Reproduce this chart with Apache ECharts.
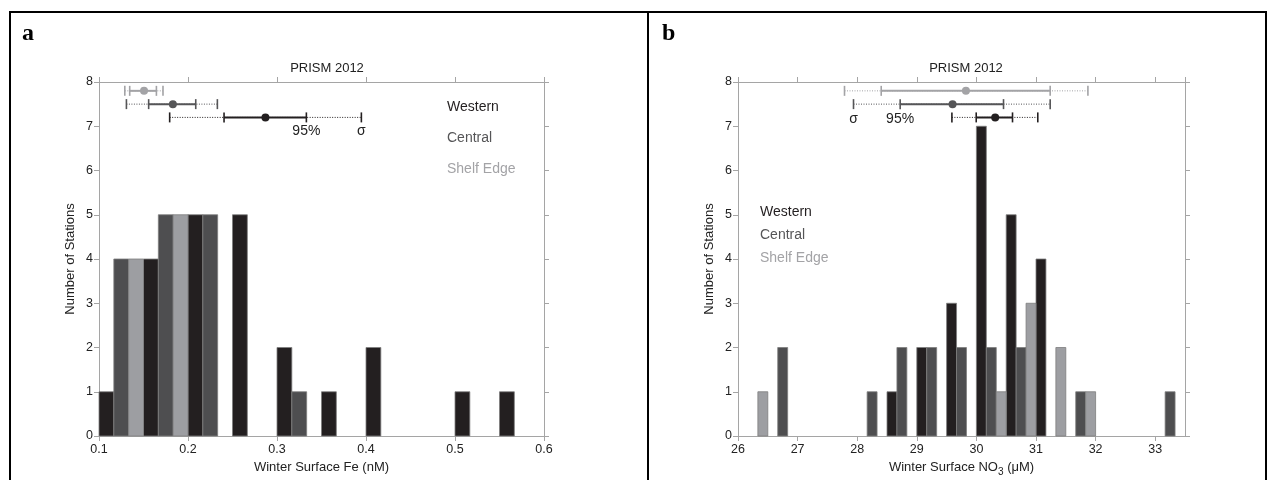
<!DOCTYPE html>
<html>
<head>
<meta charset="utf-8">
<title>PRISM 2012 winter surface Fe and NO3</title>
<script src="https://cdn.jsdelivr.net/npm/echarts@6/dist/echarts.min.js"></script>
<style>
  html, body { margin: 0; padding: 0; background: #fff; }
  #chart { width: 1277px; height: 480px; }
</style>
</head>
<body>
<div id="chart"></div>
<script>
// Histogram bins (left edge of each bin) and station counts per region
const feBinStart = [0.10, 0.15, 0.20, 0.25, 0.30, 0.35, 0.40, 0.45, 0.50, 0.55];
const feWestern  = [1, 4, 5, 5, 2, 1, 2, 0, 1, 1];
const feCentral  = [4, 5, 5, 0, 1, 0, 0, 0, 0, 0];
const feShelf    = [4, 5, 0, 0, 0, 0, 0, 0, 0, 0];

const no3BinStart = [26.0, 26.5, 27.0, 27.5, 28.0, 28.5, 29.0, 29.5, 30.0, 30.5, 31.0, 31.5, 32.0, 32.5, 33.0];
const no3Western  = [0, 0, 0, 0, 0, 1, 2, 3, 7, 5, 4, 0, 0, 0, 0];
const no3Central  = [0, 2, 0, 0, 1, 2, 2, 2, 2, 2, 0, 1, 0, 0, 1];
const no3Shelf    = [1, 0, 0, 0, 0, 0, 0, 0, 1, 3, 2, 1, 0, 0, 0];

// Summary statistics: [mean, 95% low, 95% high, sigma low, sigma high, row height]
const feStatsWestern  = [0.287, 0.2405, 0.333, 0.1794, 0.3948, 7.2];
const feStatsCentral  = [0.183, 0.1558, 0.2087, 0.1308, 0.2330, 7.5];
const feStatsShelf    = [0.1506, 0.1345, 0.1645, 0.1290, 0.1719, 7.8];

const no3StatsWestern = [30.315, 29.997, 30.606, 29.589, 31.030, 7.2];
const no3StatsCentral = [29.600, 28.721, 30.455, 27.938, 31.238, 7.5];
const no3StatsShelf   = [29.824, 28.403, 31.238, 27.787, 31.871, 7.8];

// Axis ticks
const feTicks  = [0.1, 0.2, 0.3, 0.4, 0.5, 0.6];
const no3Ticks = [26, 27, 28, 29, 30, 31, 32, 33];
const yTicks   = [0, 1, 2, 3, 4, 5, 6, 7, 8];

// Annotations for the interval markers: [x, y, text]
const feNotes  = [[0.333, 6.9, '95%'], [0.3948, 6.9, 'σ']];
const no3Notes = [[28.72, 7.17, '95%'], [27.938, 7.17, 'σ']];

const regionNames = ['Western', 'Central', 'Shelf Edge'];
const barColors   = ['#231f20', '#4e4e50', '#9d9ea2'];
const statColors  = ['#231f20', '#555557', '#a3a3a6'];
const FONT = 'Liberation Sans, Arial, sans-serif';

// Build rectangles: each bin is split into three sub-bars (Western, Central, Shelf Edge)
function barData(binStart, counts, slot, binWidth) {
  const w = binWidth / 3;
  const out = [];
  binStart.forEach((b, i) => {
    if (counts[i] > 0) out.push([b + slot * w, counts[i], w]);
  });
  return out;
}

function renderBar(color) {
  return function (params, api) {
    const x0 = api.value(0), h = api.value(1), w = api.value(2);
    const pTop = api.coord([x0, h]);
    const pBot = api.coord([x0 + w, 0]);
    return {
      type: 'rect',
      shape: { x: pTop[0], y: pTop[1], width: pBot[0] - pTop[0], height: pBot[1] - pTop[1] },
      style: { fill: color, stroke: '#7d7d7d', lineWidth: 0.8 }
    };
  };
}

function renderStat(color) {
  return function (params, api) {
    const row = api.value(5);
    const m = api.coord([api.value(0), row]);
    const c0 = api.coord([api.value(1), row]);
    const c1 = api.coord([api.value(2), row]);
    const s0 = api.coord([api.value(3), row]);
    const s1 = api.coord([api.value(4), row]);
    const cap = (p) => ({
      type: 'line',
      shape: { x1: p[0], y1: p[1] - 5, x2: p[0], y2: p[1] + 5 },
      style: { stroke: color, lineWidth: 1.6 }
    });
    return {
      type: 'group',
      children: [
        { type: 'line', shape: { x1: s0[0], y1: s0[1], x2: s1[0], y2: s1[1] },
          style: { stroke: color, lineWidth: 1, lineDash: [1, 1.5] } },
        { type: 'line', shape: { x1: c0[0], y1: c0[1], x2: c1[0], y2: c1[1] },
          style: { stroke: color, lineWidth: 2 } },
        cap(s0), cap(s1), cap(c0), cap(c1),
        { type: 'circle', shape: { cx: m[0], cy: m[1], r: 4 }, style: { fill: color } }
      ]
    };
  };
}

function renderNote(notes) {
  return function (params, api) {
    const p = api.coord([api.value(0), api.value(1)]);
    return {
      type: 'text',
      x: p[0], y: p[1],
      style: {
        text: notes[params.dataIndex][2], fill: '#222', font: '14px ' + FONT,
        align: 'center', verticalAlign: 'middle'
      }
    };
  };
}

const axisColor = '#a5a5a5';

function bottomX(gridIndex, min, max, interval, decimals, name, nameGap) {
  return {
    type: 'value', gridIndex, min, max, interval, position: 'bottom',
    axisLine: { onZero: false, lineStyle: { color: axisColor, width: 1 } },
    axisTick: { show: true, length: 5, lineStyle: { color: axisColor } },
    splitLine: { show: false },
    axisLabel: {
      color: '#222', fontFamily: FONT, fontSize: 12.5, margin: 7,
      showMaxLabel: decimals > 0,
      formatter: v => decimals > 0 ? v.toFixed(decimals) : (Number.isInteger(v) ? String(v) : '')
    },
    name, nameLocation: 'middle', nameGap,
    nameTextStyle: {
      color: '#222', fontFamily: FONT, fontSize: 13,
      rich: {
        n: { color: '#222', fontFamily: FONT, fontSize: 13 },
        sub: { color: '#222', fontFamily: FONT, fontSize: 10, verticalAlign: 'bottom', padding: [9, 0, 0, 0] }
      }
    }
  };
}
function topX(gridIndex, min, max, interval) {
  return {
    type: 'value', gridIndex, min, max, interval, position: 'top',
    axisLine: { onZero: false, lineStyle: { color: axisColor, width: 1 } },
    axisTick: { show: true, length: 5, lineStyle: { color: axisColor } },
    axisLabel: { show: false }, splitLine: { show: false }
  };
}
function leftY(gridIndex) {
  return {
    type: 'value', gridIndex, min: yTicks[0], max: yTicks[yTicks.length - 1], interval: 1, position: 'left',
    axisLine: { show: true, onZero: false, lineStyle: { color: axisColor, width: 1 } },
    axisTick: { show: true, length: 5, lineStyle: { color: axisColor } },
    splitLine: { show: false },
    axisLabel: { color: '#222', fontFamily: FONT, fontSize: 12.5, margin: 6 },
    name: 'Number of Stations', nameLocation: 'middle', nameGap: 22,
    nameTextStyle: { color: '#222', fontFamily: FONT, fontSize: 13 }
  };
}
function rightY(gridIndex) {
  return {
    type: 'value', gridIndex, min: yTicks[0], max: yTicks[yTicks.length - 1], interval: 1, position: 'right',
    axisLine: { show: true, onZero: false, lineStyle: { color: axisColor, width: 1 } },
    axisTick: { show: true, length: 5, lineStyle: { color: axisColor } },
    axisLabel: { show: false }, splitLine: { show: false }
  };
}

const series = [];
// Panel a: bars, interval markers, annotations
[feWestern, feCentral, feShelf].forEach((counts, k) => {
  series.push({
    type: 'custom', name: regionNames[k], xAxisIndex: 0, yAxisIndex: 0,
    renderItem: renderBar(barColors[k]), data: barData(feBinStart, counts, k, 0.05),
    encode: { x: 0, y: 1 }, silent: true
  });
});
[feStatsWestern, feStatsCentral, feStatsShelf].forEach((s, k) => {
  series.push({
    type: 'custom', name: regionNames[k] + ' stats', xAxisIndex: 0, yAxisIndex: 0,
    renderItem: renderStat(statColors[k]), data: [s], encode: { x: [0, 3, 4], y: 5 }, silent: true
  });
});
series.push({ type: 'custom', xAxisIndex: 0, yAxisIndex: 0, renderItem: renderNote(feNotes),
  data: feNotes.map(n => [n[0], n[1]]), encode: { x: 0, y: 1 }, silent: true });

// Panel b: bars, interval markers, annotations
[no3Western, no3Central, no3Shelf].forEach((counts, k) => {
  series.push({
    type: 'custom', name: regionNames[k], xAxisIndex: 2, yAxisIndex: 2,
    renderItem: renderBar(barColors[k]), data: barData(no3BinStart, counts, k, 0.5),
    encode: { x: 0, y: 1 }, silent: true
  });
});
[no3StatsWestern, no3StatsCentral, no3StatsShelf].forEach((s, k) => {
  series.push({
    type: 'custom', name: regionNames[k] + ' stats', xAxisIndex: 2, yAxisIndex: 2,
    renderItem: renderStat(statColors[k]), data: [s], encode: { x: [0, 3, 4], y: 5 }, silent: true
  });
});
series.push({ type: 'custom', xAxisIndex: 2, yAxisIndex: 2, renderItem: renderNote(no3Notes),
  data: no3Notes.map(n => [n[0], n[1]]), encode: { x: 0, y: 1 }, silent: true });

function legendTexts(x, y0, gap) {
  return regionNames.map((n, k) => ({
    type: 'text', left: x, top: y0 + k * gap,
    style: { text: n, fill: statColors[k], font: '14px ' + FONT }
  }));
}

const option = {
  animation: false,
  backgroundColor: '#fff',
  title: [
    { text: 'PRISM 2012', left: 322, top: 57, textAlign: 'center',
      textStyle: { fontFamily: FONT, fontSize: 13, fontWeight: 'normal', color: '#222' } },
    { text: 'PRISM 2012', left: 961, top: 57, textAlign: 'center',
      textStyle: { fontFamily: FONT, fontSize: 13, fontWeight: 'normal', color: '#222' } }
  ],
  grid: [
    { left: 99, top: 82, width: 445, height: 354, outerBoundsMode: 'none' },
    { left: 738, top: 82, width: 447, height: 354, outerBoundsMode: 'none' }
  ],
  xAxis: [
    bottomX(0, feTicks[0], feTicks[feTicks.length - 1], 0.1, 1, 'Winter Surface Fe (nM)', 24),
    topX(0, feTicks[0], feTicks[feTicks.length - 1], 0.1),
    bottomX(1, no3Ticks[0], 33.5, 1, 0, '{n|Winter Surface NO}{sub|3}{n| (μM)}', 21),
    topX(1, no3Ticks[0], 33.5, 1)
  ],
  yAxis: [leftY(0), rightY(0), leftY(1), rightY(1)],
  series,
  graphic: [
    // panel frame
    { type: 'rect', shape: { x: 10, y: 12, width: 1256, height: 490 },
      style: { fill: 'none', stroke: '#000', lineWidth: 2 }, silent: true },
    { type: 'line', shape: { x1: 648, y1: 12, x2: 648, y2: 480 },
      style: { stroke: '#000', lineWidth: 2 }, silent: true },
    { type: 'text', left: 22, top: 22,
      style: { text: 'a', font: 'bold 24px Liberation Serif, Times New Roman, serif', fill: '#000' } },
    { type: 'text', left: 662, top: 22,
      style: { text: 'b', font: 'bold 24px Liberation Serif, Times New Roman, serif', fill: '#000' } },
    ...legendTexts(447, 100, 31),
    ...legendTexts(760, 205, 23)
  ]
};

const chart = echarts.init(document.getElementById('chart'), null, { renderer: 'canvas' });
chart.setOption(option);
</script>
</body>
</html>
